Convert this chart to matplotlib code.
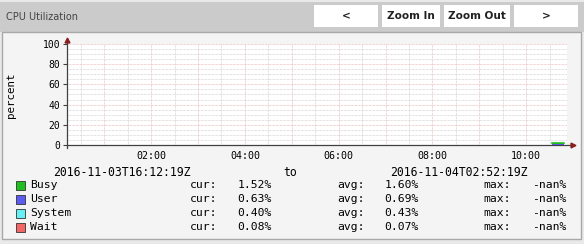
import numpy as np
import matplotlib
matplotlib.use('Agg')
import matplotlib.pyplot as plt
from matplotlib.patches import Rectangle

W, H = 584, 244

# data (local time in hours, percent)
t_data = [10.55, 10.63, 10.72, 10.80]
busy = [1.52, 1.65, 1.60, 1.52]
user = [0.70, 0.72, 0.69, 0.63]
system = [0.45, 0.44, 0.43, 0.40]
wait = [0.06, 0.07, 0.07, 0.08]

series_names = ['Busy', 'User', 'System', 'Wait']
series_colors = ['#1fbf1f', '#5c5cf5', '#66f0f5', '#f26666']
cur_vals = ['1.52%', '0.63%', '0.40%', '0.08%']
avg_vals = ['1.60%', '0.69%', '0.43%', '0.07%']
max_vals = ['-nan%', '-nan%', '-nan%', '-nan%']

x_start, x_end = 12 / 60 + 19 / 3600, 10 + 52 / 60 + 19 / 3600
x_label_pos = [2, 4, 6, 8, 10]
x_labels = ['02:00', '04:00', '06:00', '08:00', '10:00']
start_label = '2016-11-03T16:12:19Z'
end_label = '2016-11-04T02:52:19Z'

mono = 'DejaVu Sans Mono'

fig = plt.figure(figsize=(W / 100, H / 100), dpi=100)
fig.patch.set_facecolor('#e9e9e9')


def fx(px):
    return px / W


def fy(py):
    return 1 - py / H


def box(x0, y0, x1, y1, fc, ec='none', lw=0, z=-5):
    fig.patches.append(Rectangle((fx(x0), fy(y1)), fx(x1) - fx(x0), fy(y0) - fy(y1),
                                 transform=fig.transFigure, fc=fc, ec=ec, lw=lw, zorder=z))


# header bar and panel
box(0, 2, 584, 32, '#cbcbcb')
box(2, 32, 581, 239, '#f4f4f4', ec='#a8a8a8', lw=1)
fig.text(fx(6), fy(17), 'CPU Utilization', fontsize=7, color='#444444',
         family='DejaVu Sans', va='center')

buttons = ['<', 'Zoom In', 'Zoom Out', '>']
btn_x = [(314, 378), (382, 440), (444, 510), (514, 578)]
for lab, (a, b) in zip(buttons, btn_x):
    box(a, 5, b, 27, '#ffffff', z=-4)
    fig.text(fx((a + b) / 2), fy(16), lab, fontsize=7.6, color='#222222',
             family='DejaVu Sans', ha='center', va='center', weight='semibold')

# plot area
ax = fig.add_axes([fx(67), fy(145), fx(567) - fx(67), fy(44) - fy(145)])
ax.set_zorder(2)
ax.set_facecolor('#ffffff')

ax.fill_between(t_data, 0, busy, step='post', color=series_colors[0], lw=0, zorder=3)
ax.step(t_data, busy, where='post', color=series_colors[0], lw=1.2, zorder=3)
ax.fill_between(t_data, 0, user, step='post', color=series_colors[1], lw=0, zorder=3)
su = np.array(user) + np.array(system)
ax.fill_between(t_data, user, su, step='post', color=series_colors[2], lw=0, zorder=3)
ax.fill_between(t_data, su, su + np.array(wait), step='post', color=series_colors[3], lw=0, zorder=3)

ax.set_xlim(x_start, x_end)
ax.set_ylim(0, 100)
ax.set_xticks(np.arange(1, 11))
ax.set_xticks(np.arange(0.5, 11, 0.5), minor=True)
ax.set_xticklabels([x_labels[x_label_pos.index(h)] if h in x_label_pos else ''
                    for h in range(1, 11)])
ax.set_yticks(np.arange(0, 101, 20))
ax.set_yticks(np.arange(0, 101, 5), minor=True)
ax.grid(which='minor', color='#c4c4c4', lw=0.5, ls=(0, (1, 1)))
ax.grid(which='major', color='#e8a8a8', lw=0.5, ls=(0, (1, 1)))
ax.set_axisbelow(True)
ax.tick_params(axis='x', which='both', length=0, pad=4, labelsize=7.2)
ax.tick_params(axis='y', which='major', length=3, width=0.8, color='#404040',
               pad=2, labelsize=7)
ax.tick_params(axis='y', which='minor', length=0)
for lab in ax.get_xticklabels() + ax.get_yticklabels():
    lab.set_family(mono)
for s in ['top', 'right', 'left', 'bottom']:
    ax.spines[s].set_visible(False)

# axes lines with arrows
ax.plot([0, 1.012], [0, 0], transform=ax.transAxes, color='#404040', lw=0.9, clip_on=False, zorder=4)
ax.plot([0, 0], [-0.03, 1.04], transform=ax.transAxes, color='#404040', lw=0.9, clip_on=False, zorder=4)
ax.plot([1.012], [0], transform=ax.transAxes, marker='>', color='#8a1f1f', ms=3.5, clip_on=False, zorder=5)
ax.plot([0], [1.04], transform=ax.transAxes, marker='^', color='#8a1f1f', ms=3.5, clip_on=False, zorder=5)

fig.text(fx(11), fy(95), 'percent', family=mono, fontsize=7.8, rotation=90,
         ha='center', va='center')

# legend
fig.text(fx(53), fy(172), start_label, family=mono, fontsize=8.3, va='center')
fig.text(fx(290), fy(172), 'to', family=mono, fontsize=8.3, va='center', ha='center')
fig.text(fx(390), fy(172), end_label, family=mono, fontsize=8.3, va='center')
row_y = [185, 199, 213, 227]
for name, col, c, a, m, y in zip(series_names, series_colors, cur_vals, avg_vals, max_vals, row_y):
    box(15.5, y - 4.5, 24.5, y + 4.5, col, ec='#333333', lw=0.6, z=-3)
    fig.text(fx(30), fy(y), name, family=mono, fontsize=8.2, va='center')
    fig.text(fx(190), fy(y), 'cur:', family=mono, fontsize=8.2, va='center')
    fig.text(fx(272), fy(y), c, family=mono, fontsize=8.2, va='center', ha='right')
    fig.text(fx(337), fy(y), 'avg:', family=mono, fontsize=8.2, va='center')
    fig.text(fx(419), fy(y), a, family=mono, fontsize=8.2, va='center', ha='right')
    fig.text(fx(483), fy(y), 'max:', family=mono, fontsize=8.2, va='center')
    fig.text(fx(566), fy(y), m, family=mono, fontsize=8.2, va='center', ha='right')

fig.savefig('out.png', dpi=100, facecolor=fig.get_facecolor())
